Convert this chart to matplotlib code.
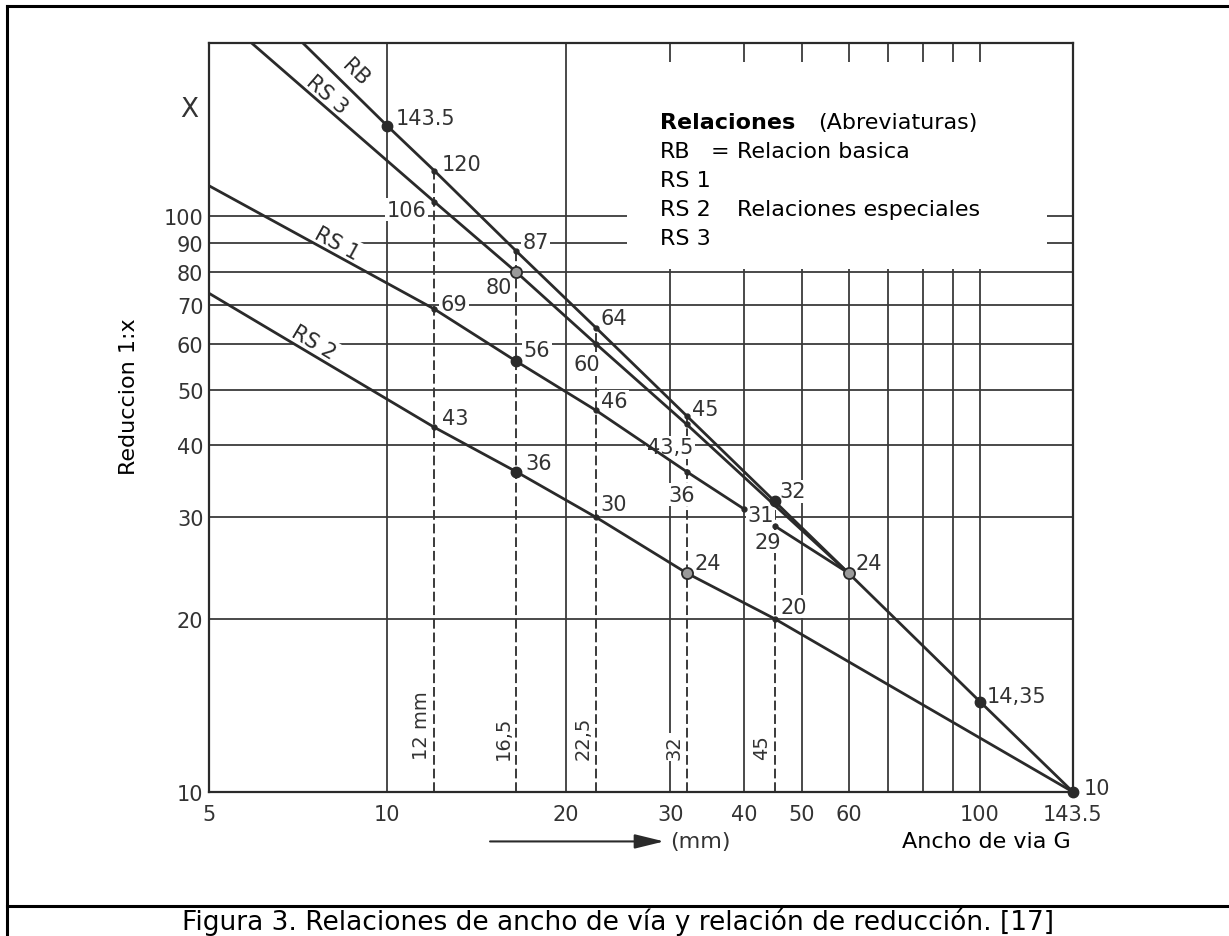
import math
import matplotlib
matplotlib.use('Agg')
import matplotlib.pyplot as plt
from matplotlib.lines import Line2D
from matplotlib.patches import Rectangle
import matplotlib.transforms as mtransforms

# ---------------- data ----------------
x_ticks = [5, 10, 20, 30, 40, 50, 60, 100, 143.5]
x_tick_labels = ['5', '10', '20', '30', '40', '50', '60', '100', '143.5']
y_ticks = [10, 20, 30, 40, 50, 60, 70, 80, 90, 100]
y_tick_labels = ['10', '20', '30', '40', '50', '60', '70', '80', '90', '100']
x_grid = [10, 20, 30, 40, 50, 60, 70, 80, 90, 100]
y_grid = [20, 30, 40, 50, 60, 70, 80, 90, 100]

rb_x = [7.2, 10, 12, 16.5, 22.5, 32, 45, 60, 100, 143.5]
rb_y = [200, 143.5, 120, 87, 64, 45, 32, 24, 14.35, 10]
rs3_x = [5.9, 12, 16.5, 22.5, 32, 45, 60]
rs3_y = [200, 106, 80, 60, 43.5, 31.5, 24]
rs1_x = [5, 12, 16.5, 22.5, 32, 40]
rs1_y = [113, 69, 56, 46, 36, 31]
rs1b_x = [45, 60]
rs1b_y = [29, 24]
rs2_x = [5, 12, 16.5, 22.5, 32, 45, 143.5]
rs2_y = [73.5, 43, 36, 30, 24, 20, 10]

gauge_x = [12, 16.5, 22.5, 32, 45]
gauge_top = [120, 87, 64, 45, 32]
gauge_labels = ['12 mm', '16,5', '22,5', '32', '45']

dot_x = [10, 16.5, 16.5, 45, 100, 143.5]
dot_y = [143.5, 56, 36, 32, 14.35, 10]
ring_x = [16.5, 32, 60]
ring_y = [80, 24, 24]
tick_x = [12, 16.5, 22.5, 32, 12, 22.5, 32, 12, 22.5, 32, 40, 45, 12, 22.5, 45]
tick_y = [120, 87, 64, 45, 106, 60, 43.5, 69, 46, 36, 31, 29, 43, 30, 20]

val_text = ['143.5', '120', '87', '64', '45', '32', '24', '14,35', '10',
            '106', '80', '60', '43,5',
            '69', '56', '46', '36', '31', '29',
            '43', '36', '30', '24', '20']
val_x = [10, 12, 16.5, 22.5, 32, 45, 60, 100, 143.5,
         12, 16.5, 22.5, 32,
         12, 16.5, 22.5, 32, 40, 45,
         12, 16.5, 22.5, 32, 45]
val_y = [143.5, 120, 87, 64, 45, 32, 24, 14.35, 10,
         106, 80, 60, 43.5,
         69, 56, 46, 36, 31, 29,
         43, 36, 30, 24, 20]

series_names = ['RB', 'RS 3', 'RS 1', 'RS 2']
legend_title = 'Relaciones'
legend_sub = '(Abreviaturas)'
caption = 'Figura 3. Relaciones de ancho de vía y relación de reducción. [17]'

# ---------------- layout / style ----------------
# (dx px, dy px, ha) for value labels
val_off = [(8, 8, 'left'), (7, 7, 'left'), (6, 9, 'left'), (4, 10, 'left'),
           (5, 7, 'left'), (5, 10, 'left'), (7, 10, 'left'), (7, 6, 'left'),
           (11, 4, 'left'),
           (-8, -8, 'right'), (-4, -15, 'right'), (-9, -20, 'center'),
           (-17, -23, 'center'),
           (6, 5, 'left'), (7, 11, 'left'), (5, 9, 'left'), (-5, -23, 'center'),
           (3, -6, 'left'), (-7, -16, 'center'),
           (8, 9, 'left'), (9, 9, 'left'), (4, 13, 'left'), (8, 10, 'left'),
           (6, 12, 'left')]

LC = '#2a2a2a'
GC = '#3a3a3a'
TC = '#333333'
FS = 15

fig = plt.figure(figsize=(12.29, 9.37), dpi=100)
W, H = 1229, 937
ax = fig.add_axes([209 / W, 1 - 793 / H, 864 / W, 749 / H])
ax.set_xscale('log')
ax.set_yscale('log')
ax.set_xlim(5, 143.5)
ax.set_ylim(10, 200)

ax.set_xticks(x_ticks)
ax.set_xticklabels(x_tick_labels)
ax.set_yticks(y_ticks)
ax.set_yticklabels(y_tick_labels)
ax.xaxis.set_minor_locator(matplotlib.ticker.NullLocator())
ax.yaxis.set_minor_locator(matplotlib.ticker.NullLocator())
ax.tick_params(axis='both', length=0, labelsize=FS, labelcolor=TC)
ax.tick_params(axis='x', pad=9)
ax.tick_params(axis='y', pad=4)
for s in ax.spines.values():
    s.set_linewidth(1.6)
    s.set_color(LC)

# grid
ax.vlines(x_grid, 10, 200, colors=GC, linewidth=1.3, zorder=1)
ax.hlines(y_grid, 5, 143.5, colors=GC, linewidth=1.3, zorder=1)

# legend blank area
ax.add_patch(Rectangle((0.4838, 0.6987), 0.4862, 0.2760, transform=ax.transAxes,
                       facecolor='white', edgecolor='none', zorder=1.2))

# dashed gauge lines
ax.vlines(gauge_x, 10, gauge_top, colors=GC, linewidth=1.4,
          linestyles=(0, (5, 2)), zorder=1.5)
for gx, gl in zip(gauge_x, gauge_labels):
    ax.annotate(gl, xy=(gx, 11.4), xytext=(-13, 0), textcoords='offset pixels',
                rotation=90, ha='center', va='bottom', fontsize=14, color=TC,
                zorder=2.5,
                bbox=dict(boxstyle='square,pad=0.1', fc='white', ec='none'))

# series
for xs, ys in [(rb_x, rb_y), (rs3_x, rs3_y), (rs1_x, rs1_y), (rs1b_x, rs1b_y), (rs2_x, rs2_y)]:
    ax.plot(xs, ys, color=LC, linewidth=2.0, zorder=3, solid_capstyle='round')

ax.plot(tick_x, tick_y, 'o', color=LC, markersize=3.5, zorder=4)
ax.plot(dot_x, dot_y, 'o', color=LC, markersize=7.5, zorder=4, clip_on=False)
ax.plot(ring_x, ring_y, 'o', markerfacecolor='#9a9a9a', markeredgecolor=LC,
        markeredgewidth=1.3, markersize=8, zorder=4)

# value labels
for t, x, y, (dx, dy, ha) in zip(val_text, val_x, val_y, val_off):
    ax.annotate(t, xy=(x, y), xytext=(dx, dy), textcoords='offset pixels',
                ha=ha, va='center', fontsize=FS, color=TC, zorder=2.5,
                annotation_clip=False,
                bbox=dict(boxstyle='square,pad=0.08', fc='white', ec='none'))


# series name labels, rotated parallel to lines
def angle(xs, ys, i, j):
    p = ax.transData.transform([(xs[i], ys[i]), (xs[j], ys[j])])
    return math.degrees(math.atan2(p[1][1] - p[0][1], p[1][0] - p[0][0]))


name_pos = [(8.84, 178), (7.9, 163), (8.2, 90), (7.5, 60.5)]
name_ang = [angle(rb_x, rb_y, 0, 2), angle(rs3_x, rs3_y, 0, 1),
            angle(rs1_x, rs1_y, 0, 1), angle(rs2_x, rs2_y, 0, 1)]
for nm, (x, y), a in zip(series_names, name_pos, name_ang):
    ax.text(x, y, nm, rotation=a, rotation_mode='anchor', ha='center', va='center',
            fontsize=FS, color=LC, zorder=2.5,
            bbox=dict(boxstyle='square,pad=0.1', fc='white', ec='none'))

# legend text
lx, ly, dy = 0.522, 0.8945, 0.0387
ax.text(lx, ly, legend_title, transform=ax.transAxes, fontsize=16, fontweight='bold',
        va='center', ha='left', color='black', zorder=5)
ax.text(0.7049, ly, legend_sub, transform=ax.transAxes, fontsize=16,
        va='center', ha='left', color='black', zorder=5)
ax.text(lx, ly - dy, 'RB', transform=ax.transAxes, fontsize=16, va='center', zorder=5)
ax.text(0.581, ly - dy, '=', transform=ax.transAxes, fontsize=16, va='center', zorder=5)
ax.text(0.611, ly - dy, 'Relacion basica', transform=ax.transAxes, fontsize=16,
        va='center', zorder=5)
ax.text(lx, ly - 2 * dy, 'RS 1', transform=ax.transAxes, fontsize=16, va='center', zorder=5)
ax.text(lx, ly - 3 * dy, 'RS 2', transform=ax.transAxes, fontsize=16, va='center', zorder=5)
ax.text(0.611, ly - 3 * dy, 'Relaciones especiales', transform=ax.transAxes, fontsize=16,
        va='center', zorder=5)
ax.text(lx, ly - 4 * dy, 'RS 3', transform=ax.transAxes, fontsize=16, va='center', zorder=5)

# axis annotations
ax.text(-0.023, 0.912, 'X', transform=ax.transAxes, fontsize=19, color=TC,
        ha='center', va='center')
ax.text(-0.093, 0.529, 'Reduccion 1:x', transform=ax.transAxes, rotation=90,
        fontsize=16, color='black', ha='center', va='center')

blend = mtransforms.blended_transform_factory(ax.transData, ax.transAxes)
ax.annotate('', xy=(29.3, -0.066), xytext=(14.9, -0.066), xycoords=blend,
            textcoords=blend, annotation_clip=False,
            arrowprops=dict(arrowstyle='-|>,head_length=0.9,head_width=0.22',
                            color=LC, lw=1.5, mutation_scale=20,
                            shrinkA=0, shrinkB=0))
ax.text(30, -0.066, '(mm)', transform=blend, fontsize=16, color=TC,
        ha='left', va='center')
ax.text(142, -0.066, 'Ancho de via G', transform=blend, fontsize=16, color='black',
        ha='right', va='center')

# frame and caption
fig.add_artist(Line2D([7 / W, 1], [1 - 7 / H, 1 - 7 / H], color='black', lw=2.2))
fig.add_artist(Line2D([7 / W, 7 / W], [0, 1 - 7 / H], color='black', lw=2.2))
fig.add_artist(Line2D([7 / W, 1], [1 - 907 / H, 1 - 907 / H], color='black', lw=2.2))
fig.text(618 / W, 1 - 922 / H, caption, ha='center', va='center', fontsize=19,
         color='black')

fig.savefig('out.png', dpi=100, facecolor='white')
